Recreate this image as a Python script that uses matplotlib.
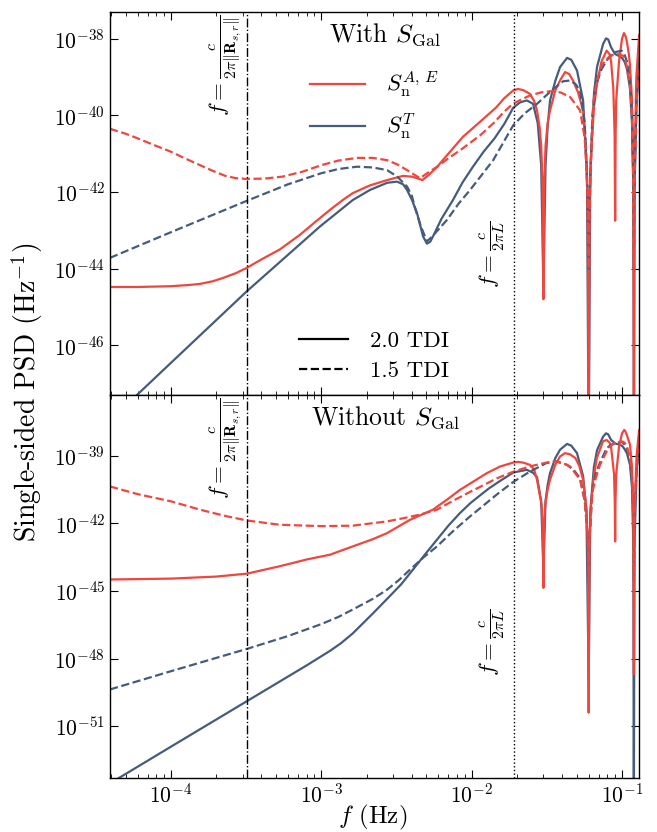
import numpy as np
import matplotlib
matplotlib.use("Agg")
import matplotlib.pyplot as plt
from matplotlib.lines import Line2D
from matplotlib.ticker import NullLocator

plt.rcParams['font.family'] = 'serif'
plt.rcParams['font.serif'] = ['cmr10', 'DejaVu Serif']
plt.rcParams['mathtext.fontset'] = 'cm'
plt.rcParams['axes.formatter.use_mathtext'] = True
plt.rcParams['axes.unicode_minus'] = False

RED = '#f0463d'
BLUE = '#465c7c'

# frequences caracteristiques (Hz)
f_Rsr = 3.2e-4     # c / (2 pi |R_s,r|)
f_L = 0.0191       # c / (2 pi L)

# ---- panneau haut : avec S_Gal (log10 PSD) ----
f_ae20_gal = [3.93e-5, 6e-5, 1e-4, 1.3e-4, 1.56e-4, 1.9e-4, 2.2e-4, 2.7e-4, 3.2e-4, 4e-4,
              5.3e-4, 7.2e-4, 9e-4, 1.14e-3, 1.4e-3, 1.62e-3, 2.1e-3, 2.74e-3, 3.49e-3, 4e-3,
              4.33e-3, 4.7e-3, 5.2e-3, 5.9e-3, 7e-3, 8.75e-3, 0.0115, 0.0145, 0.0165, 0.0189,
              0.0203, 0.022, 0.0244, 0.026, 0.0272, 0.0283, 0.029, 0.0296, 0.030, 0.0304,
              0.031, 0.032, 0.0332, 0.036, 0.0387, 0.0418, 0.0445, 0.0472, 0.051, 0.0551,
              0.0577, 0.0592, 0.060, 0.0608, 0.0625, 0.065, 0.0682, 0.073, 0.079, 0.0825,
              0.0845, 0.0875, 0.0893, 0.090, 0.0907, 0.0915, 0.0955, 0.100, 0.103, 0.106,
              0.108, 0.111, 0.113, 0.1165, 0.119, 0.120, 0.121, 0.1245, 0.130]
s_ae20_gal = [-44.48, -44.48, -44.46, -44.43, -44.40, -44.33, -44.25, -44.12, -43.98, -43.76,
              -43.5, -43.12, -42.8, -42.47, -42.2, -42.03, -41.83, -41.69, -41.58, -41.6,
              -41.64, -41.69, -41.55, -41.34, -41.0, -40.56, -40.15, -39.8, -39.55, -39.35,
              -39.31, -39.34, -39.44, -39.62, -39.87, -40.3, -40.8, -41.8, -44.8, -41.8,
              -40.8, -40.2, -39.87, -39.35, -39.09, -38.87, -38.92, -39.09, -39.4, -39.87,
              -41.0, -42.5, -49.0, -42.5, -40.9, -39.8, -39.18, -38.6, -38.31, -38.4,
              -38.57, -39.3, -40.5, -42.75, -40.5, -39.6, -38.6, -38.0, -37.85, -37.95,
              -38.1, -38.4, -38.7, -39.6, -41.5, -49.0, -41.5, -39.0, -37.9]

f_t20_gal = [3.93e-5, 5.94e-5, 1e-4, 3.2e-4, 9.8e-4, 1.62e-3, 2.1e-3, 2.74e-3, 3.19e-3, 3.5e-3,
             3.72e-3, 4.0e-3, 4.33e-3, 4.75e-3, 5.04e-3, 5.3e-3, 5.53e-3, 6.3e-3, 7.51e-3, 8.7e-3,
             0.0102, 0.012, 0.0142, 0.0165, 0.0189, 0.021, 0.0233, 0.0256, 0.0275, 0.029,
             0.030, 0.031, 0.032, 0.0332, 0.036, 0.0387, 0.0431, 0.046, 0.0502, 0.0551,
             0.0585, 0.060, 0.0615, 0.0652, 0.0682, 0.0748, 0.0783, 0.081, 0.0845, 0.090,
             0.0955, 0.100, 0.104, 0.108, 0.113, 0.1165, 0.119, 0.120, 0.121, 0.125, 0.130]
s_t20_gal = [-47.97, -47.3, -46.46, -44.59, -42.9, -42.21, -41.95, -41.76, -41.73, -41.8,
             -41.95, -42.2, -42.55, -43.16, -43.35, -43.3, -43.16, -42.7, -42.21, -41.75,
             -41.34, -40.95, -40.6, -40.22, -39.8, -39.66, -39.61, -39.70, -40.2, -41.3,
             -44.5, -41.3, -40.3, -39.61, -39.1, -38.74, -38.50, -38.55, -38.83, -39.61,
             -41.5, -49.0, -41.5, -39.4, -38.74, -38.14, -37.99, -38.02, -38.22, -38.4,
             -38.45, -38.5, -38.6, -38.8, -39.3, -40.2, -42.0, -49.0, -42.0, -39.5, -38.5]

f_ae15_gal = [3.93e-5, 5e-5, 6e-5, 8e-5, 1e-4, 1.25e-4, 1.56e-4, 1.9e-4, 2.3e-4, 2.7e-4,
              3.2e-4, 4.2e-4, 5.5e-4, 7.5e-4, 1e-3, 1.3e-3, 1.73e-3, 2.2e-3, 2.74e-3, 3.2e-3,
              3.72e-3, 4.2e-3, 4.53e-3, 5.1e-3, 5.9e-3, 7e-3, 8.4e-3, 0.0114, 0.014, 0.0165,
              0.0189, 0.0244, 0.029, 0.0332, 0.039, 0.0451, 0.0526, 0.0565, 0.059, 0.060,
              0.061, 0.0644, 0.068, 0.073, 0.081, 0.087, 0.094, 0.1016, 0.105, 0.108,
              0.113, 0.1165, 0.119, 0.120, 0.121, 0.125, 0.130]
s_ae15_gal = [-40.35, -40.48, -40.6, -40.8, -40.95, -41.13, -41.3, -41.45, -41.58, -41.64,
              -41.66, -41.65, -41.6, -41.47, -41.3, -41.18, -41.11, -41.11, -41.17, -41.28,
              -41.43, -41.56, -41.64, -41.5, -41.34, -41.12, -40.91, -40.52, -40.2, -39.9,
              -39.69, -39.48, -39.4, -39.37, -39.4, -39.52, -39.87, -40.6, -42.0, -44.0,
              -42.0, -39.65, -39.1, -38.70, -38.49, -38.42, -38.40, -38.44, -38.55, -38.75,
              -39.2, -40.0, -41.8, -44.0, -41.8, -39.6, -38.8]

f_t15_gal = [3.93e-5, 1e-4, 3.2e-4, 6e-4, 1e-3, 1.3e-3, 1.73e-3, 2.2e-3, 2.74e-3, 3.2e-3,
             3.72e-3, 4.0e-3, 4.24e-3, 4.6e-3, 5.04e-3, 5.5e-3, 6.85e-3, 8.2e-3, 9.75e-3, 0.0139,
             0.0189, 0.0225, 0.0272, 0.034, 0.0406, 0.0451, 0.049, 0.0526, 0.0565, 0.059,
             0.060, 0.061, 0.0635, 0.0675, 0.073, 0.079, 0.085, 0.090, 0.0995, 0.104,
             0.108, 0.113, 0.1165, 0.119, 0.120, 0.121, 0.125, 0.130]
s_t15_gal = [-43.72, -43.05, -42.23, -41.8, -41.51, -41.4, -41.34, -41.36, -41.43, -41.6,
             -41.86, -42.1, -42.47, -42.9, -43.29, -43.15, -42.73, -42.3, -41.95, -41.17,
             -40.26, -39.95, -39.70, -39.35, -39.11, -39.09, -39.18, -39.35, -40.2, -42.0,
             -44.0, -42.0, -40.0, -39.18, -38.8, -38.57, -38.42, -38.35, -38.31, -38.42,
             -38.6, -39.1, -39.9, -41.8, -44.0, -41.8, -39.6, -38.8]

# ---- panneau bas : sans S_Gal (log10 PSD) ----
f_ae20 = [3.93e-5, 1e-4, 2e-4, 3.2e-4, 5.3e-4, 8e-4, 1.14e-3, 1.62e-3, 2.2e-3, 2.74e-3,
          3.89e-3, 5.53e-3, 7e-3, 8.36e-3, 0.0105, 0.0126, 0.0155, 0.0189, 0.0203, 0.022,
          0.0244, 0.026, 0.0272, 0.0292, 0.0297, 0.030, 0.0303, 0.0308, 0.032, 0.0332,
          0.036, 0.0387, 0.0418, 0.045, 0.049, 0.052, 0.0551, 0.058, 0.0593, 0.060,
          0.0607, 0.062, 0.0644, 0.068, 0.0748, 0.079, 0.0825, 0.0845, 0.0885, 0.0895,
          0.090, 0.0905, 0.0915, 0.0955, 0.100, 0.1035, 0.106, 0.108, 0.111, 0.113,
          0.1165, 0.119, 0.120, 0.121, 0.125, 0.130]
s_ae20 = [-44.49, -44.45, -44.36, -44.23, -43.9, -43.6, -43.39, -43.02, -42.7, -42.43,
          -41.84, -41.39, -40.9, -40.51, -40.1, -39.77, -39.47, -39.30, -39.27, -39.3,
          -39.40, -39.6, -40.06, -41.2, -42.3, -44.86, -42.3, -41.2, -40.5, -40.06,
          -39.4, -39.03, -38.88, -38.93, -39.10, -39.45, -40.06, -41.3, -43.0, -50.4,
          -43.0, -41.3, -40.06, -39.1, -38.35, -38.3, -38.4, -38.59, -39.8, -41.0,
          -42.8, -41.0, -39.8, -38.6, -38.0, -37.85, -37.95, -38.1, -38.35, -38.5,
          -39.5, -41.5, -48.7, -41.5, -39.0, -37.85]

f_t20 = [3.93e-5, 1e-4, 3.2e-4, 8e-4, 1.14e-3, 1.35e-3, 1.62e-3, 2.2e-3, 2.74e-3, 3.4e-3,
         4.07e-3, 5e-3, 5.88e-3, 7e-3, 8.36e-3, 9.8e-3, 0.0114, 0.013, 0.015, 0.0189,
         0.0233, 0.0256, 0.0272, 0.029, 0.030, 0.031, 0.032, 0.0332, 0.036, 0.0387,
         0.0431, 0.046, 0.0502, 0.0551, 0.058, 0.060, 0.0615, 0.065, 0.0682, 0.0748,
         0.0783, 0.081, 0.0845, 0.090, 0.0955, 0.100, 0.104, 0.108, 0.113, 0.1165,
         0.119, 0.1198, 0.121, 0.125, 0.130]
s_t20 = [-53.54, -51.91, -49.89, -48.3, -47.66, -47.32, -46.88, -46.0, -45.35, -44.7,
         -44.05, -43.3, -42.72, -42.1, -41.54, -41.1, -40.75, -40.45, -40.17, -39.74,
         -39.62, -39.75, -39.95, -41.0, -44.0, -41.0, -40.3, -39.77, -39.1, -38.73,
         -38.47, -38.55, -38.88, -39.9, -41.5, -49.0, -41.5, -39.5, -38.75, -38.15,
         -38.0, -38.05, -38.29, -38.45, -38.5, -38.55, -38.7, -38.9, -39.4, -40.4,
         -43.0, -56.0, -43.0, -39.6, -38.3]

f_ae15 = [3.93e-5, 6e-5, 1e-4, 1.56e-4, 2.3e-4, 3.2e-4, 5.3e-4, 1e-3, 1.62e-3, 2.74e-3,
          3.5e-3, 4.53e-3, 5.88e-3, 7.5e-3, 9.75e-3, 0.012, 0.0148, 0.019, 0.0244, 0.0314,
          0.0348, 0.040, 0.0451, 0.0526, 0.0565, 0.059, 0.060, 0.061, 0.0635, 0.0675,
          0.0714, 0.081, 0.090, 0.1016, 0.105, 0.108, 0.113, 0.1165, 0.119, 0.120,
          0.121, 0.125, 0.130]
s_ae15 = [-40.36, -40.7, -41.02, -41.39, -41.67, -41.87, -42.06, -42.12, -42.10, -41.91,
          -41.77, -41.61, -41.39, -41.0, -40.6, -40.3, -39.99, -39.7, -39.47, -39.30,
          -39.25, -39.3, -39.47, -40.06, -41.0, -42.5, -44.5, -42.5, -40.6, -39.9,
          -39.4, -38.66, -38.4, -38.37, -38.45, -38.6, -39.1, -39.9, -41.8, -44.5,
          -41.8, -39.5, -38.6]

f_t15 = [3.93e-5, 1e-4, 3.2e-4, 6e-4, 1e-3, 1.3e-3, 1.62e-3, 2.2e-3, 2.74e-3, 3.3e-3,
         3.89e-3, 4.8e-3, 5.88e-3, 7.5e-3, 9.75e-3, 0.012, 0.0148, 0.0189, 0.0244, 0.0314,
         0.0365, 0.0431, 0.048, 0.0526, 0.0565, 0.059, 0.060, 0.061, 0.0635, 0.0675,
         0.0714, 0.079, 0.085, 0.090, 0.0995, 0.104, 0.108, 0.113, 0.1165, 0.119,
         0.120, 0.121, 0.125, 0.130]
s_t15 = [-49.37, -48.56, -47.57, -47.0, -46.47, -46.15, -45.82, -45.35, -44.94, -44.5,
         -44.05, -43.5, -43.02, -42.35, -41.69, -41.2, -40.7, -40.16, -39.70, -39.32,
         -39.25, -39.40, -39.65, -39.99, -41.0, -42.5, -44.5, -42.5, -40.5, -39.7,
         -39.3, -38.66, -38.5, -38.45, -38.37, -38.5, -38.7, -39.2, -40.0, -41.8,
         -44.5, -41.8, -39.6, -38.7]

fig = plt.figure(figsize=(6.57, 8.32), dpi=100)
ax1 = fig.add_axes([0.1674, 0.5252, 0.8052, 0.4604])
ax2 = fig.add_axes([0.1674, 0.0649, 0.8052, 0.4603], sharex=ax1)

courbes_haut = [(f_t20_gal, s_t20_gal, BLUE, '-'), (f_ae20_gal, s_ae20_gal, RED, '-'),
                (f_t15_gal, s_t15_gal, BLUE, '--'), (f_ae15_gal, s_ae15_gal, RED, '--')]
courbes_bas = [(f_t20, s_t20, BLUE, '-'), (f_ae20, s_ae20, RED, '-'),
               (f_t15, s_t15, BLUE, '--'), (f_ae15, s_ae15, RED, '--')]

for ax, courbes in [(ax1, courbes_haut), (ax2, courbes_bas)]:
    for f, s, c, ls in courbes:
        ax.loglog(f, 10.0 ** np.array(s), color=c, ls=ls, lw=1.6)
    ax.axvline(f_Rsr, color='k', ls='-.', lw=1.0)
    ax.axvline(f_L, color='k', ls=':', lw=1.0)
    ax.tick_params(which='both', direction='in', top=True, right=True, labelsize=15.5)
    ax.tick_params(which='major', length=6, width=0.8)
    ax.tick_params(which='minor', length=3, width=0.6)
    for sp in ax.spines.values():
        sp.set_linewidth(1.0)
    ax.text(0.219, 0.86, r'$f=\frac{c}{2\pi\|\mathbf{R}_{s,r}\|}$', transform=ax.transAxes,
            rotation=90, ha='center', va='center', fontsize=16.5)

ax1.text(0.722, 0.366, r'$f=\frac{c}{2\pi L}$', transform=ax1.transAxes,
         rotation=90, ha='center', va='center', fontsize=16.5)
ax2.text(0.722, 0.355, r'$f=\frac{c}{2\pi L}$', transform=ax2.transAxes,
         rotation=90, ha='center', va='center', fontsize=16.5)

ax1.set_xlim(3.93e-5, 0.1297)
ax1.set_ylim(5e-48, 5e-38)
ax2.set_ylim(5e-54, 5e-37)
ax1.set_yticks([1e-46, 1e-44, 1e-42, 1e-40, 1e-38])
ax2.set_yticks([1e-51, 1e-48, 1e-45, 1e-42, 1e-39])
ax1.yaxis.set_minor_locator(NullLocator())
ax2.yaxis.set_minor_locator(NullLocator())
plt.setp(ax1.get_xticklabels(), visible=False)

ax1.text(0.52, 0.94, r'With $S_{\rm Gal}$', transform=ax1.transAxes, ha='center', va='center', fontsize=18.5)
ax2.text(0.52, 0.94, r'Without $S_{\rm Gal}$', transform=ax2.transAxes, ha='center', va='center', fontsize=18.5)

leg1 = ax1.legend(handles=[Line2D([], [], color=RED, lw=1.6, label=r'$S_{\rm n}^{A,\,E}$'),
                           Line2D([], [], color=BLUE, lw=1.6, label=r'$S_{\rm n}^{T}$')],
                  loc='center', bbox_to_anchor=(0.5, 0.755), frameon=False, fontsize=16.5,
                  handlelength=2.4, handletextpad=0.9, labelspacing=0.55)
ax1.add_artist(leg1)
ax1.legend(handles=[Line2D([], [], color='k', lw=1.6, ls='-', label='2.0 TDI'),
                    Line2D([], [], color='k', lw=1.6, ls='--', label='1.5 TDI')],
           loc='center', bbox_to_anchor=(0.5, 0.102), frameon=False, fontsize=16.5,
           handlelength=2.1, handletextpad=1.0, labelspacing=0.45)

fig.text(0.567, 0.018, r'$f$ (Hz)', ha='center', va='center', fontsize=18)
fig.text(0.041, 0.528, r'Single-sided PSD (Hz$^{-1}$)', rotation=90, ha='center', va='center', fontsize=20)

fig.savefig('out.png', dpi=100)
